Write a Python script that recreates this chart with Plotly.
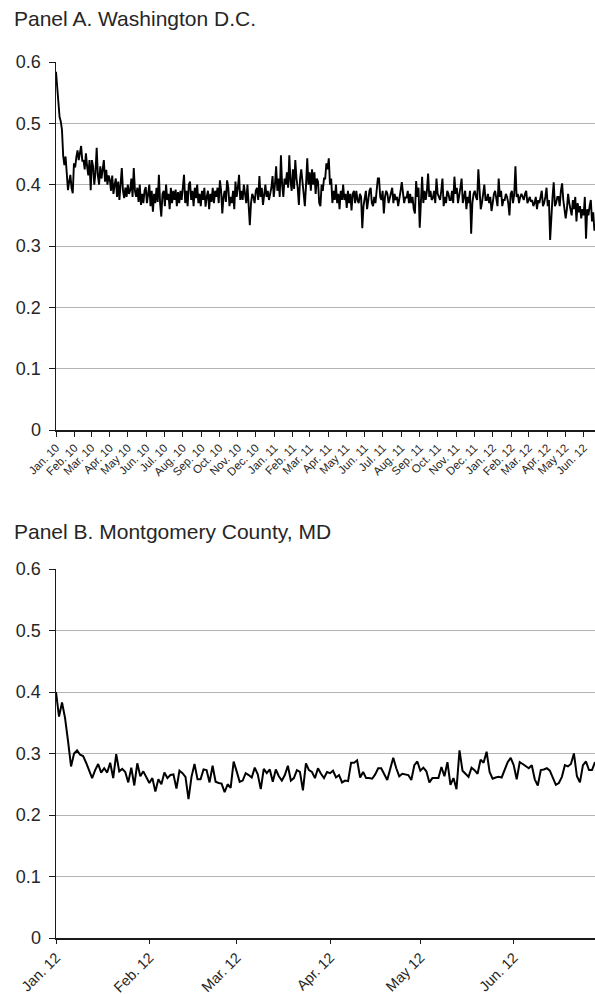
import pandas as pd
import plotly.graph_objects as go

# ---------------- data ----------------
# Panel A: Washington D.C., one reading every 2 days from 1 Jan 2010
dc_start = "2010-01-01"
dc_step = "2D"
dc_share = [
    0.584, 0.562, 0.535, 0.51, 0.503, 0.489, 0.447, 0.432, 0.446, 0.418, 0.391, 0.405, 0.416, 0.395, 0.386,
    0.435, 0.428, 0.445, 0.456, 0.44, 0.452, 0.463, 0.438, 0.44, 0.425, 0.451, 0.43, 0.415, 0.44, 0.391,
    0.44, 0.43, 0.40, 0.42, 0.46, 0.415, 0.40, 0.43, 0.41, 0.425, 0.44, 0.405, 0.424, 0.40, 0.415,
    0.408, 0.39, 0.415, 0.385, 0.40, 0.41, 0.38, 0.405, 0.375, 0.40, 0.427, 0.39, 0.378, 0.395, 0.38,
    0.40, 0.385, 0.391, 0.41, 0.38, 0.427, 0.39, 0.38, 0.395, 0.372, 0.40, 0.367, 0.385, 0.37, 0.39,
    0.396, 0.37, 0.385, 0.40, 0.365, 0.39, 0.356, 0.385, 0.37, 0.395, 0.372, 0.416, 0.37, 0.348, 0.385,
    0.39, 0.365, 0.40, 0.375, 0.385, 0.36, 0.395, 0.37, 0.39, 0.375, 0.392, 0.365, 0.388, 0.37, 0.39,
    0.375, 0.40, 0.416, 0.37, 0.39, 0.365, 0.40, 0.405, 0.375, 0.39, 0.365, 0.395, 0.378, 0.40, 0.37,
    0.385, 0.365, 0.39, 0.375, 0.395, 0.364, 0.38, 0.39, 0.36, 0.385, 0.372, 0.395, 0.37, 0.39, 0.38,
    0.395, 0.37, 0.407, 0.39, 0.353, 0.38, 0.39, 0.372, 0.407, 0.395, 0.365, 0.38, 0.37, 0.39, 0.36,
    0.405, 0.38, 0.395, 0.416, 0.375, 0.39, 0.375, 0.40, 0.385, 0.37, 0.40, 0.365, 0.334, 0.37, 0.385,
    0.38, 0.37, 0.39, 0.395, 0.375, 0.414, 0.38, 0.395, 0.367, 0.39, 0.40, 0.38, 0.39, 0.375, 0.385,
    0.395, 0.414, 0.38, 0.40, 0.43, 0.39, 0.41, 0.38, 0.448, 0.40, 0.38, 0.41, 0.40, 0.42, 0.395,
    0.448, 0.405, 0.39, 0.425, 0.393, 0.44, 0.41, 0.395, 0.367, 0.41, 0.425, 0.40, 0.38, 0.365, 0.40,
    0.443, 0.40, 0.42, 0.39, 0.425, 0.40, 0.42, 0.385, 0.41, 0.405, 0.37, 0.365, 0.40, 0.39, 0.41,
    0.41, 0.435, 0.425, 0.443, 0.40, 0.41, 0.37, 0.39, 0.375, 0.40, 0.37, 0.385, 0.36, 0.39, 0.375,
    0.40, 0.375, 0.385, 0.362, 0.39, 0.37, 0.385, 0.358, 0.385, 0.39, 0.37, 0.39, 0.375, 0.37, 0.385,
    0.38, 0.329, 0.365, 0.38, 0.39, 0.36, 0.375, 0.39, 0.395, 0.37, 0.365, 0.38, 0.37, 0.39, 0.41,
    0.41, 0.38, 0.375, 0.39, 0.353, 0.38, 0.39, 0.385, 0.37, 0.38, 0.39, 0.395, 0.37, 0.385, 0.375,
    0.38, 0.365, 0.375, 0.39, 0.404, 0.385, 0.37, 0.38, 0.378, 0.39, 0.37, 0.385, 0.37, 0.38, 0.36,
    0.353, 0.406, 0.38, 0.395, 0.33, 0.385, 0.413, 0.37, 0.39, 0.375, 0.39, 0.418, 0.38, 0.39, 0.375,
    0.378, 0.39, 0.37, 0.41, 0.385, 0.38, 0.375, 0.39, 0.41, 0.365, 0.38, 0.37, 0.39, 0.385, 0.375,
    0.375, 0.39, 0.37, 0.413, 0.385, 0.395, 0.37, 0.38, 0.395, 0.41, 0.37, 0.38, 0.39, 0.36, 0.38,
    0.37, 0.39, 0.32, 0.37, 0.385, 0.39, 0.38, 0.375, 0.425, 0.39, 0.36, 0.37, 0.385, 0.40, 0.375,
    0.375, 0.385, 0.37, 0.38, 0.357, 0.37, 0.385, 0.39, 0.38, 0.365, 0.41, 0.38, 0.39, 0.365, 0.375,
    0.375, 0.385, 0.38, 0.37, 0.35, 0.385, 0.39, 0.37, 0.385, 0.43, 0.38, 0.385, 0.37, 0.38, 0.385,
    0.38, 0.375, 0.385, 0.39, 0.37, 0.375, 0.38, 0.372, 0.375, 0.365, 0.37, 0.38, 0.36, 0.375, 0.37,
    0.38, 0.39, 0.365, 0.37, 0.38, 0.395, 0.365, 0.375, 0.31, 0.36, 0.38, 0.404, 0.365, 0.37, 0.38,
    0.38, 0.365, 0.39, 0.402, 0.375, 0.36, 0.345, 0.36, 0.385, 0.37, 0.36, 0.35, 0.375, 0.36, 0.38,
    0.34, 0.37, 0.355, 0.365, 0.345, 0.36, 0.35, 0.38, 0.312, 0.36, 0.35, 0.365, 0.375, 0.34, 0.355,
    0.325,
]

# Panel B: Montgomery County, MD, daily from 1 Jan 2012
mc_start = "2012-01-01"
mc_step = "D"
mc_share = [
    0.400, 0.360, 0.383, 0.358, 0.320, 0.279, 0.300, 0.305, 0.298, 0.296,
    0.285, 0.272, 0.260, 0.273, 0.283, 0.269, 0.276, 0.269, 0.285, 0.260,
    0.299, 0.271, 0.275, 0.270, 0.253, 0.277, 0.248, 0.284, 0.263, 0.271,
    0.262, 0.252, 0.260, 0.238, 0.258, 0.250, 0.269, 0.260, 0.265, 0.266,
    0.243, 0.272, 0.268, 0.262, 0.226, 0.262, 0.283, 0.258, 0.258, 0.274,
    0.273, 0.253, 0.280, 0.254, 0.252, 0.251, 0.237, 0.250, 0.244, 0.287,
    0.271, 0.254, 0.256, 0.268, 0.265, 0.261, 0.277, 0.266, 0.242, 0.275,
    0.268, 0.274, 0.254, 0.274, 0.263, 0.256, 0.265, 0.280, 0.256, 0.260,
    0.273, 0.270, 0.240, 0.284, 0.273, 0.270, 0.260, 0.276, 0.267, 0.260,
    0.270, 0.268, 0.272, 0.261, 0.265, 0.253, 0.256, 0.255, 0.285, 0.285,
    0.289, 0.261, 0.270, 0.260, 0.260, 0.259, 0.266, 0.276, 0.276, 0.266,
    0.257, 0.275, 0.293, 0.276, 0.263, 0.267, 0.266, 0.265, 0.257, 0.281,
    0.287, 0.272, 0.277, 0.271, 0.253, 0.260, 0.260, 0.260, 0.278, 0.263,
    0.286, 0.249, 0.260, 0.242, 0.305, 0.272, 0.267, 0.262, 0.277, 0.273,
    0.267, 0.290, 0.285, 0.303, 0.270, 0.259, 0.261, 0.262, 0.261, 0.275,
    0.286, 0.293, 0.281, 0.258, 0.286, 0.283, 0.279, 0.276, 0.281, 0.258,
    0.248, 0.273, 0.274, 0.276, 0.272, 0.259, 0.249, 0.252, 0.262, 0.281,
    0.279, 0.283, 0.300, 0.263, 0.253, 0.281, 0.287, 0.273, 0.273, 0.286,
]

month_abbr = ["Jan.", "Feb.", "Mar.", "Apr.", "May", "Jun.",
              "Jul.", "Aug.", "Sep.", "Oct.", "Nov.", "Dec."]
y_ticks = [0, 0.1, 0.2, 0.3, 0.4, 0.5, 0.6]
y_tick_labels = ["0", "0.1", "0.2", "0.3", "0.4", "0.5", "0.6"]
titles = ["Panel A. Washington D.C.", "Panel B. Montgomery County, MD"]

# ---------------- build ----------------
dc_x = pd.date_range(dc_start, periods=len(dc_share), freq=dc_step)
mc_x = pd.date_range(mc_start, periods=len(mc_share), freq=mc_step)

a_months = pd.date_range("2010-01-01", "2012-06-01", freq="MS")
a_text = [f"{month_abbr[d.month - 1]} {d.strftime('%y')}" for d in a_months]
b_months = pd.date_range("2012-01-01", "2012-06-01", freq="MS")
b_text = [f"{month_abbr[d.month - 1]} {d.strftime('%y')}" for d in b_months]

W, H = 595, 994
FONT = "Liberation Sans, Arial, Helvetica, sans-serif"
TXT = "#262626"

fig = go.Figure()
fig.add_trace(go.Scatter(x=dc_x, y=dc_share, mode="lines",
                         line=dict(color="black", width=1.9),
                         xaxis="x", yaxis="y", showlegend=False))
fig.add_trace(go.Scatter(x=mc_x, y=mc_share, mode="lines",
                         line=dict(color="black", width=2),
                         xaxis="x2", yaxis="y2", showlegend=False))

x0 = 56 / W
common_y = dict(range=[0, 0.6], tickvals=y_ticks, ticktext=y_tick_labels,
                showgrid=True, gridcolor="#b4b4b4", gridwidth=1,
                zeroline=False, showline=True, linecolor="#1a1a1a", linewidth=1.5,
                ticks="outside", ticklen=6, tickcolor="#1a1a1a", tickwidth=1,
                ticklabelstandoff=4, automargin=False,
                tickfont=dict(family=FONT, size=18, color=TXT), fixedrange=True)
common_x = dict(showgrid=False, zeroline=False, showline=True,
                linecolor="#1a1a1a", linewidth=1.5, ticks="outside",
                tickcolor="#1a1a1a", tickwidth=1, tickangle=-45,
                automargin=False, fixedrange=True)

fig.update_layout(
    width=W, height=H,
    margin=dict(l=0, r=0, t=0, b=0, autoexpand=False),
    paper_bgcolor="white", plot_bgcolor="white",
    font=dict(family=FONT, color=TXT),
    xaxis=dict(domain=[x0, 1], anchor="y", type="date",
               range=["2010-01-01", "2012-06-20"],
               tickvals=a_months, ticktext=a_text, ticklen=5,
               tickfont=dict(family=FONT, size=11.5, color=TXT), **common_x),
    yaxis=dict(domain=[(H - 430) / H, (H - 62) / H], anchor="x", **common_y),
    xaxis2=dict(domain=[x0, 1], anchor="y2", type="date",
                range=["2012-01-01", "2012-06-28"],
                tickvals=b_months, ticktext=b_text, ticklen=4,
                tickfont=dict(family=FONT, size=14.5, color=TXT), **common_x),
    yaxis2=dict(domain=[(H - 938) / H, (H - 569) / H], anchor="x2", **common_y),
    annotations=[
        dict(text=titles[0], xref="paper", yref="paper", x=12 / W, y=1 - 18 / H,
             xanchor="left", yanchor="middle", showarrow=False,
             font=dict(family=FONT, size=21, color=TXT)),
        dict(text=titles[1], xref="paper", yref="paper", x=12 / W, y=1 - 531 / H,
             xanchor="left", yanchor="middle", showarrow=False,
             font=dict(family=FONT, size=21, color=TXT)),
    ],
)

fig.write_html("out.html",
               config={"displayModeBar": False, "staticPlot": True},
               post_script="document.body.style.margin='0px';"
                           "document.body.style.overflow='hidden';")
